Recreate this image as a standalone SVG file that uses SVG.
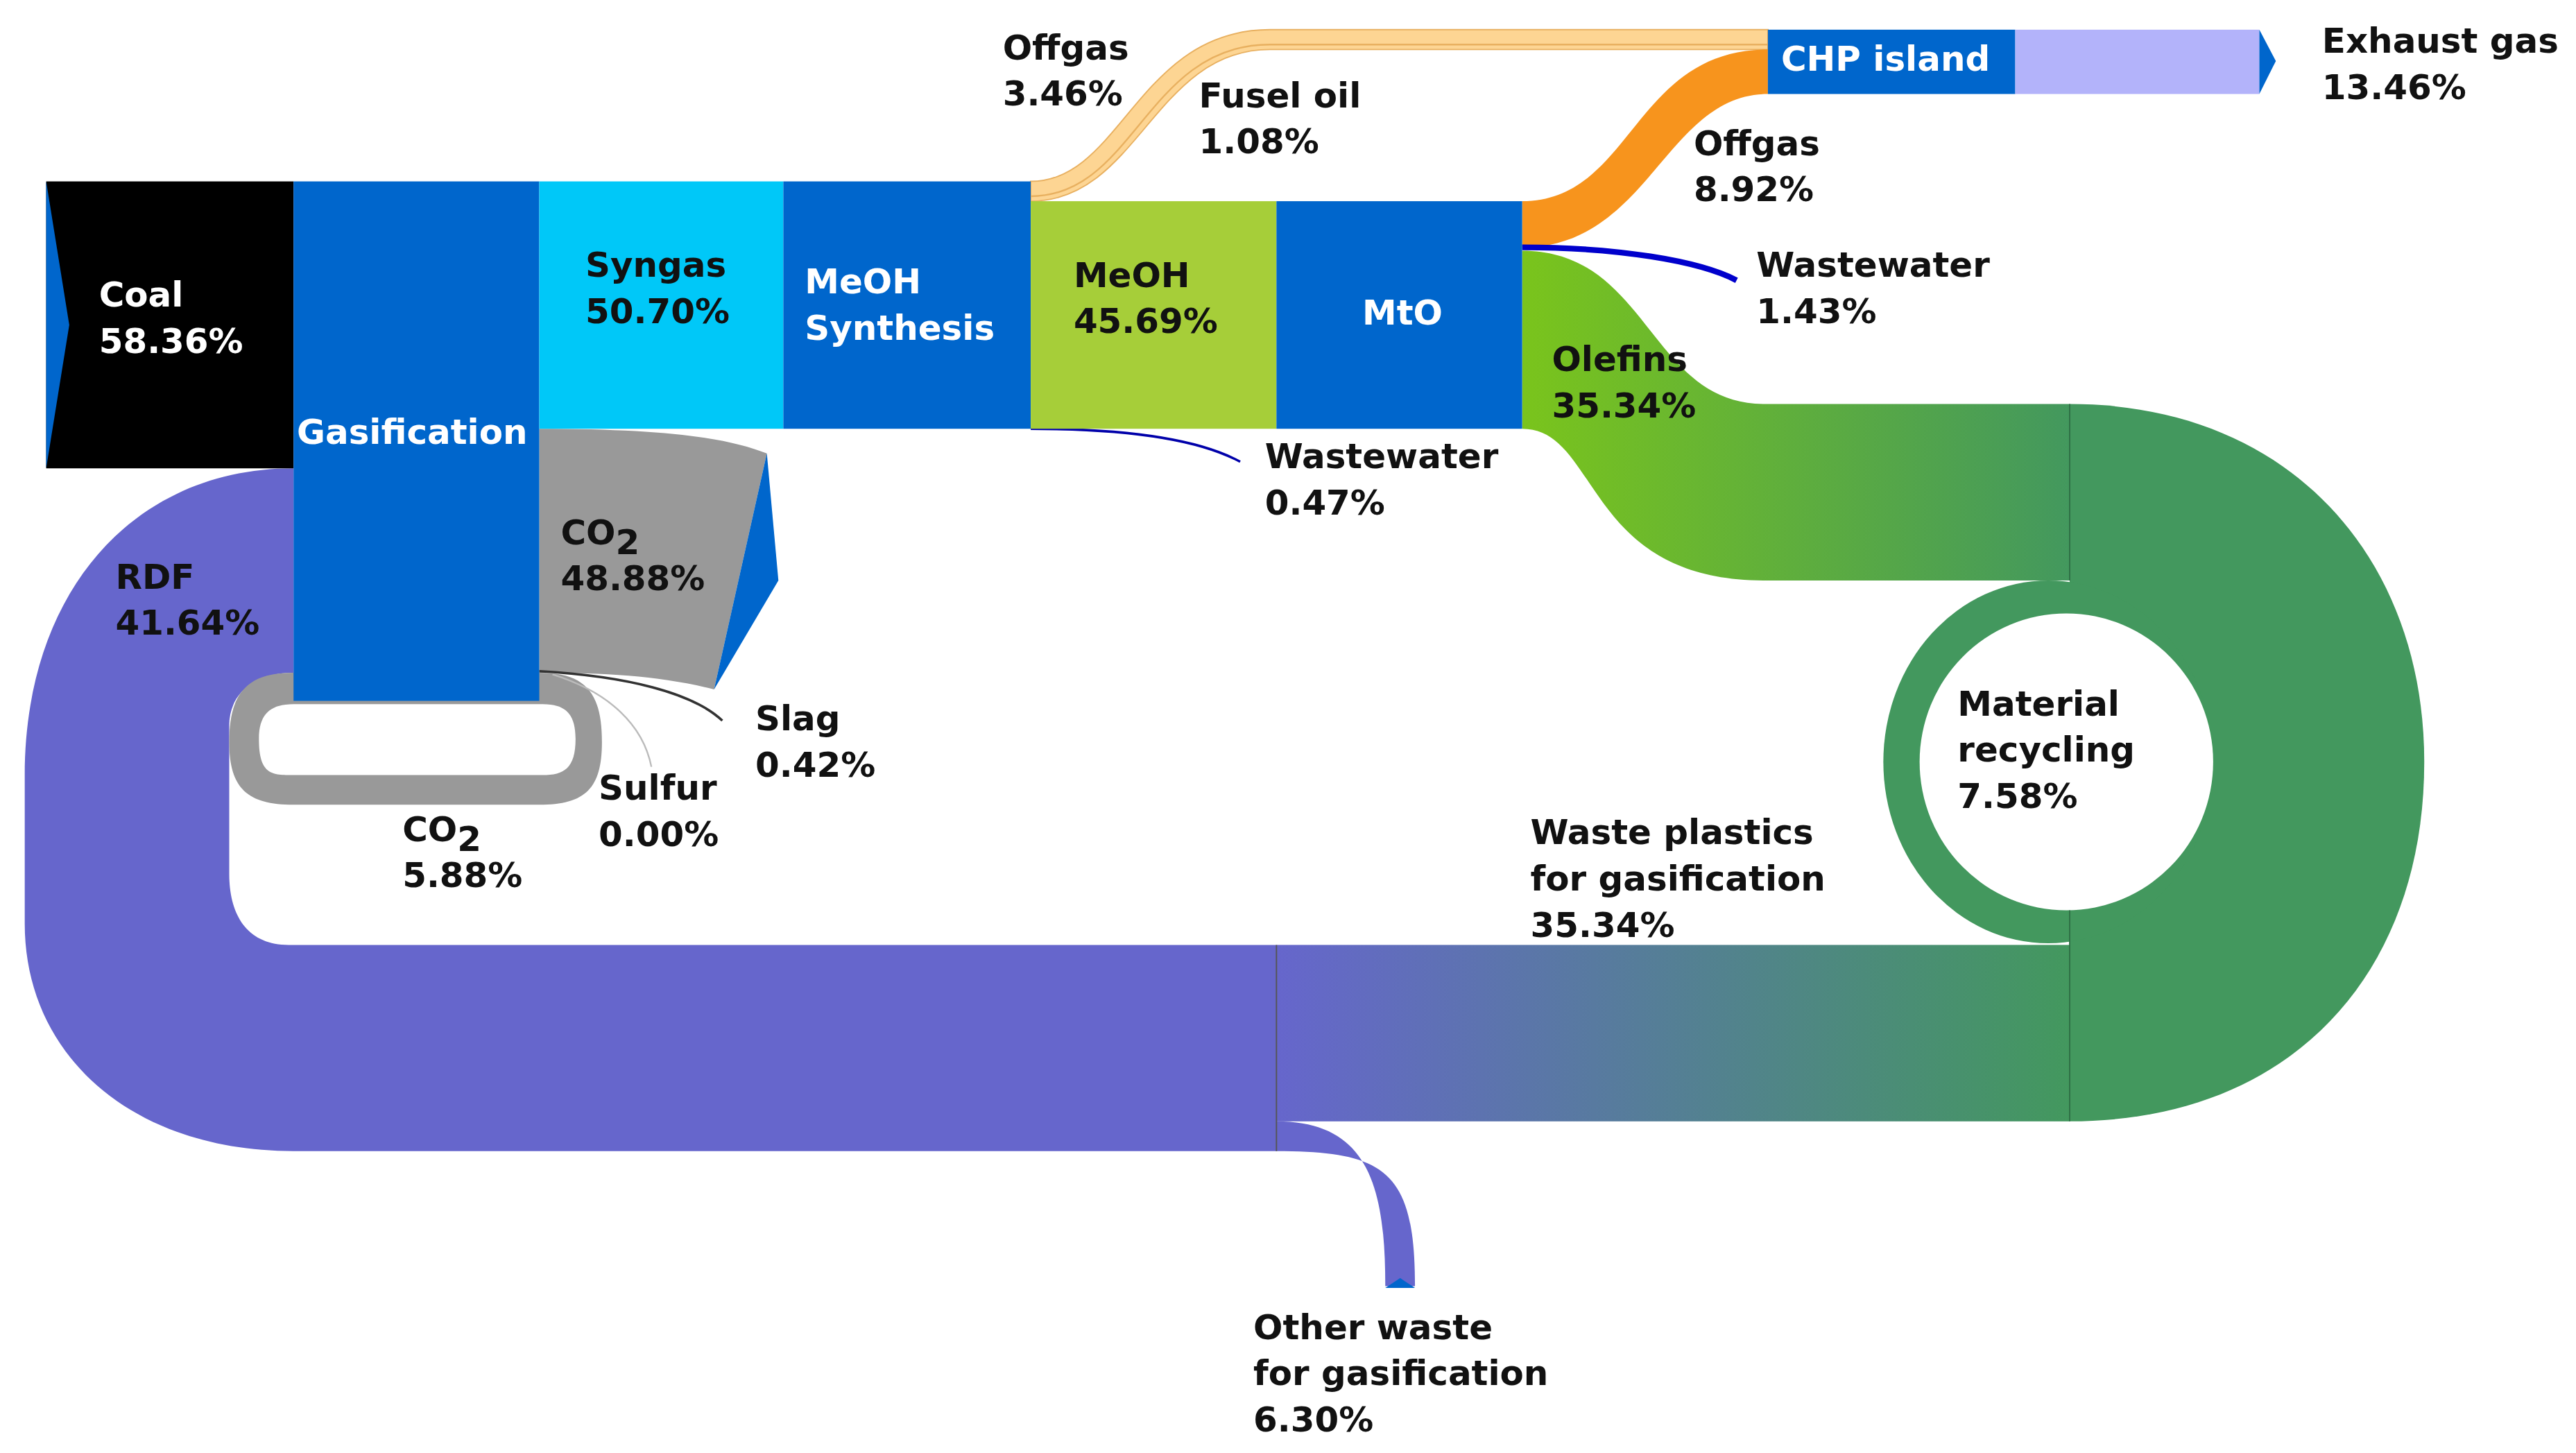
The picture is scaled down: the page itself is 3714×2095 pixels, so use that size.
<svg xmlns="http://www.w3.org/2000/svg" width="3714" height="2095" viewBox="0 0 3714 2095">
<defs>
<style>
text{font-family:"DejaVu Sans","Verdana",sans-serif;font-weight:bold;font-size:21px;fill:#111}
.w{fill:#fff}
.blue{fill:#0066cc}
</style>
<linearGradient id="gOl" x1="0" x2="1"><stop offset="0" stop-color="#7ac41c"/><stop offset="1" stop-color="#43985e"/></linearGradient>
<linearGradient id="gWp" x1="0" x2="1"><stop offset="0" stop-color="#6666cc"/><stop offset="1" stop-color="#43985e"/></linearGradient>
</defs>
<rect width="3714" height="2095" fill="#fff"/>
<g transform="scale(2.3777)">
<g id="connectors">
<path d="M178,284 C80,284 15,360 15,470 L15,560 C15,640 80,698 178,698 L774,698 L774,573 L175,573 C150,573 139,555 139,530 L139,440 C139,420 155,408 178,408 Z" fill="#6666cc"/>
<path d="M774,680 C830,680 840,720 840,780 L858,780 C858,710 840,698 774,698 Z" fill="#6666cc"/>
<path d="M840,781 L849,775 L858,781 Z" fill="#0066cc"/>
<rect x="774" y="573" width="481" height="107" fill="url(#gWp)"/>
<line x1="774" y1="573" x2="774" y2="698" stroke="#555" stroke-width="0.8"/>
<path d="M139,450 C139,420 150,408 178,408 L327,408 C355,408 365,420 365,450 C365,478 355,488 327,488 L178,488 C150,488 139,478 139,450 Z M157,448 C157,470 165,470 178,470 L329,470 C342,470 349,466 349,448 C349,432 342,427 329,427 L178,427 C165,427 157,432 157,448 Z" fill="#999" fill-rule="evenodd"/>
<path d="M327,260 C400,260 440,265 465,275 L433,418 C400,410 370,408 327,408 Z" fill="#999"/>
<path d="M465,275 L472,352 L433,418 Z" fill="#0066cc"/>
<path d="M327,407 C380,410 420,420 438,437" fill="none" stroke="#333" stroke-width="1.5"/>
<path d="M335,409 C370,420 390,440 395,465" fill="none" stroke="#bbb" stroke-width="1"/>
<path d="M625,110 C680,110 690,18 770,18 L1072,18 L1072,30 L770,30 C700,30 690,122 625,122 Z" fill="#fdd593" stroke="#e8b060" stroke-width="0.8"/>
<path d="M625,119 C688,119 695,27 770,27 L1072,27" fill="none" stroke="#e8b060" stroke-width="1"/>
<path d="M923,122 C990,122 990,30 1072,30 L1072,57 C1010,57 1000,150 923,150 Z" fill="#f7941d"/>
<path d="M923,150 C980,150 1030,158 1053,170" fill="none" stroke="#0000cc" stroke-width="3.5"/>
<path d="M625,260 C690,260 730,268 752,280" fill="none" stroke="#0000aa" stroke-width="1.5"/>
<path d="M923,152 C1000,152 1000,245 1070,245 L1255,245 L1255,352 L1070,352 C960,352 970,260 923,260 Z" fill="url(#gOl)"/>
<path d="M1255,245 C1390,245 1470,340 1470,462 C1470,590 1390,680 1255,680 Z" fill="#43985e"/>
<ellipse cx="1242" cy="462" rx="100" ry="110" fill="#43985e"/>
<ellipse cx="1253" cy="462" rx="89" ry="90" fill="#fff"/>
<line x1="1255" y1="245" x2="1255" y2="352" stroke="#2f6e45" stroke-width="0.8"/>
<line x1="1255" y1="552" x2="1255" y2="680" stroke="#2f6e45" stroke-width="0.8"/>
</g>
<g id="coal"><rect x="28" y="110" width="150" height="174" fill="#000"/><path d="M28,110 L42,197 L28,284 Z" fill="#0066cc"/><text class="w" x="60" y="186">Coal</text><text class="w" x="60" y="214">58.36%</text></g>
<g id="gasification"><rect x="178" y="110" width="149" height="315" class="blue"/><text class="w" x="180" y="269">Gasification</text></g>
<g id="syngas"><rect x="327" y="110" width="148" height="150" fill="#00c8f8"/><text x="355" y="168">Syngas</text><text x="355" y="196">50.70%</text></g>
<g id="meoh-synthesis"><rect x="475" y="110" width="150" height="150" class="blue"/><text class="w" x="488" y="178">MeOH</text><text class="w" x="488" y="206">Synthesis</text></g>
<g id="meoh"><rect x="625" y="122" width="149" height="138" fill="#a6ce39"/><text x="651" y="174">MeOH</text><text x="651" y="202">45.69%</text></g>
<g id="mto"><rect x="774" y="122" width="149" height="138" class="blue"/><text class="w" x="826" y="197">MtO</text></g>
<g id="chp"><rect x="1072" y="18" width="150" height="39" class="blue"/><text class="w" x="1080" y="43">CHP island</text></g>
<g id="exhaust"><rect x="1222" y="18" width="148" height="39" fill="#b3b3fa"/><path d="M1370,18 L1380,37 L1370,57 Z" fill="#0066cc"/><text x="1408" y="32">Exhaust gas</text><text x="1408" y="60">13.46%</text></g>
<g id="labels">
<text x="608" y="36">Offgas</text><text x="608" y="64">3.46%</text>
<text x="727" y="65">Fusel oil</text><text x="727" y="93">1.08%</text>
<text x="1027" y="94">Offgas</text><text x="1027" y="122">8.92%</text>
<text x="1065" y="168">Wastewater</text><text x="1065" y="196">1.43%</text>
<text x="941" y="225">Olefins</text><text x="941" y="253">35.34%</text>
<text x="767" y="284">Wastewater</text><text x="767" y="312">0.47%</text>
<text x="340" y="330">CO<tspan dy="6">2</tspan></text><text x="340" y="358">48.88%</text>
<text x="70" y="357">RDF</text><text x="70" y="385">41.64%</text>
<text x="458" y="443">Slag</text><text x="458" y="471">0.42%</text>
<text x="363" y="485">Sulfur</text><text x="363" y="513">0.00%</text>
<text x="244" y="510">CO<tspan dy="6">2</tspan></text><text x="244" y="538">5.88%</text>
<text x="1187" y="434">Material</text><text x="1187" y="462">recycling</text><text x="1187" y="490">7.58%</text>
<text x="928" y="512">Waste plastics</text><text x="928" y="540">for gasification</text><text x="928" y="568">35.34%</text>
<text x="760" y="812">Other waste</text><text x="760" y="840">for gasification</text><text x="760" y="868">6.30%</text>
</g>
</g>
</svg>
